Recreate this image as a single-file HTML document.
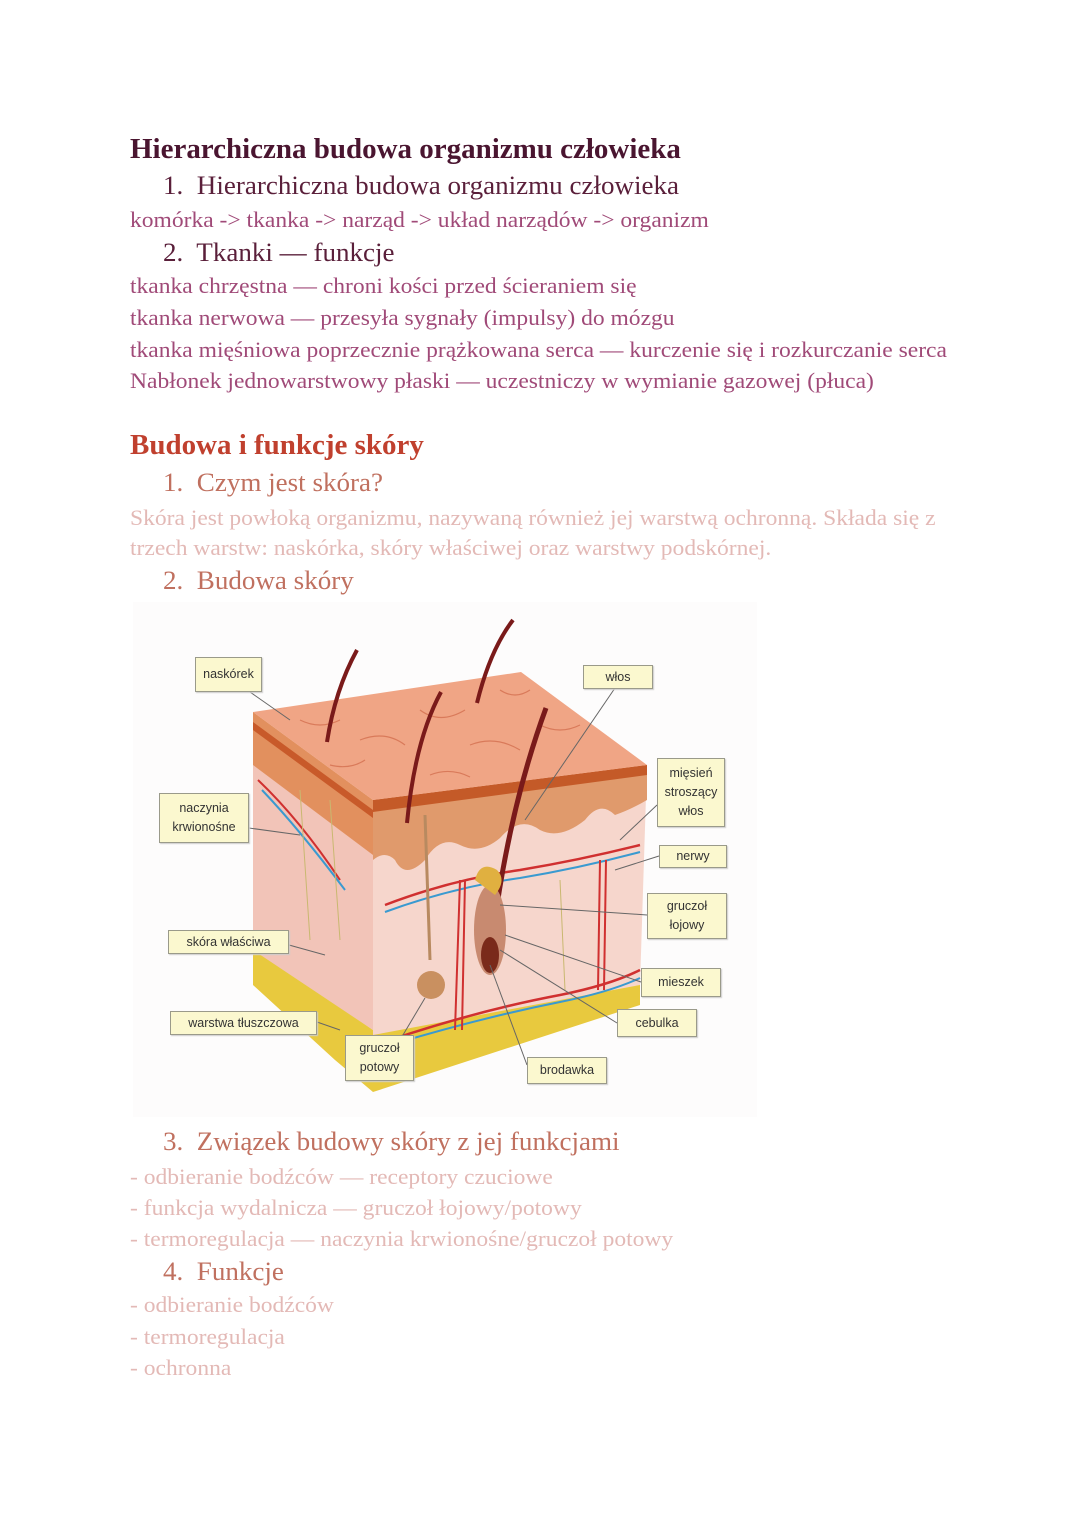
<!DOCTYPE html>
<html><head><meta charset="utf-8">
<style>
html,body{margin:0;padding:0;background:#fff;}
body{width:1080px;height:1525px;position:relative;overflow:hidden;font-family:"Liberation Serif",serif;}
.t{position:absolute;white-space:nowrap;line-height:32px;transform-origin:0 50%;}
.h1{font-size:28px;font-weight:bold;color:#4a1530;left:130px;transform:scaleX(1.035);}
.li1{font-size:26px;color:#5a1f3a;left:163px;transform:scaleX(1.04);}
.b1{font-size:22px;color:#a04a78;left:130px;transform:scaleX(1.07);}
.h2{font-size:28px;font-weight:bold;color:#c0402e;left:130px;transform:scaleX(1.035);}
.li2{font-size:26px;color:#c0705f;left:163px;transform:scaleX(1.04);}
.b2{font-size:22px;color:#e3b9b6;left:130px;transform:scaleX(1.07);}
.lab{position:absolute;background:#fbf8cf;border:1.5px solid #9a9a8a;font-family:"Liberation Sans",sans-serif;font-size:12.5px;color:#333;text-align:center;display:flex;align-items:center;justify-content:center;line-height:19px;box-sizing:border-box;box-shadow:1px 1px 1px #ccc;}
</style></head><body>
<div class="t h1" style="top:134px">Hierarchiczna budowa organizmu człowieka</div>
<div class="t li1" style="top:170px">1.&nbsp; Hierarchiczna budowa organizmu człowieka</div>
<div class="t b1" style="top:204px">komórka -&gt; tkanka -&gt; narząd -&gt; układ narządów -&gt; organizm</div>
<div class="t li1" style="top:237px">2.&nbsp; Tkanki — funkcje</div>
<div class="t b1" style="top:270px">tkanka chrzęstna — chroni kości przed ścieraniem się</div>
<div class="t b1" style="top:302px">tkanka nerwowa — przesyła sygnały (impulsy) do mózgu</div>
<div class="t b1" style="top:334px">tkanka mięśniowa poprzecznie prążkowana serca — kurczenie się i rozkurczanie serca</div>
<div class="t b1" style="top:365px">Nabłonek jednowarstwowy płaski — uczestniczy w wymianie gazowej (płuca)</div>

<div class="t h2" style="top:430px">Budowa i funkcje skóry</div>
<div class="t li2" style="top:467px">1.&nbsp; Czym jest skóra?</div>
<div class="t b2" style="top:502px">Skóra jest powłoką organizmu, nazywaną również jej warstwą ochronną. Składa się z</div>
<div class="t b2" style="top:532px">trzech warstw: naskórka, skóry właściwej oraz warstwy podskórnej.</div>
<div class="t li2" style="top:565px">2.&nbsp; Budowa skóry</div>

<svg style="position:absolute;left:0;top:0" width="1080" height="1525">
<rect x="133" y="602" width="624" height="515" fill="#fdfcfc"/>
<polygon points="253,945 373,1030 640,980 640,1005 373,1092 335,1060 253,985" fill="#e8c93e"/>
<polygon points="253,712 373,800 373,1030 253,950" fill="#f2c4b8"/>
<polygon points="373,800 647,765 640,985 373,1035" fill="#f6d6cc"/>
<polygon points="253,712 373,800 373,855 253,765" fill="#e2905e"/>
<polygon points="253,722 373,810 373,818 253,730" fill="#c85a2a"/>
<path d="M373,800 L647,765 L647,800 Q630,810 615,815 Q600,800 585,820 Q560,840 540,830 Q520,815 500,838 Q480,855 460,845 Q440,835 425,860 Q405,880 395,860 Q385,850 373,860 Z" fill="#e09a6c"/>
<polygon points="373,800 647,765 647,775 373,812" fill="#c45a28"/>
<polygon points="253,712 521,672 647,765 373,800" fill="#f0a585"/>
<path d="M300,720 q20,10 40,0 M360,740 q25,-10 45,5 M420,710 q20,15 45,0 M470,745 q25,-10 50,5 M540,725 q20,10 40,0 M430,775 q20,-8 40,2 M330,765 q20,5 35,-5 M500,690 q15,10 30,0" stroke="#d97a5a" stroke-width="1.2" fill="none"/>
<path d="M385,905 Q450,880 520,870 Q580,860 640,845" stroke="#d03030" stroke-width="2.5" fill="none"/>
<path d="M385,912 Q450,888 520,878 Q580,868 640,852" stroke="#3a9ad0" stroke-width="2" fill="none"/>
<path d="M390,1040 Q480,1010 560,995 Q610,985 640,970" stroke="#d03030" stroke-width="2.5" fill="none"/>
<path d="M390,1045 Q480,1018 560,1002 Q610,992 640,978" stroke="#3a9ad0" stroke-width="2" fill="none"/>
<path d="M258,780 Q300,820 340,880" stroke="#d03030" stroke-width="2" fill="none"/>
<path d="M262,790 Q300,830 345,890" stroke="#3a9ad0" stroke-width="2" fill="none"/>
<path d="M460,880 L455,1030 M465,880 L462,1030 M600,860 L598,990 M606,860 L604,990" stroke="#d03030" stroke-width="2" fill="none"/>
<path d="M300,790 L310,940 M330,800 L340,940 M560,880 L565,990" stroke="#c9b870" stroke-width="1" fill="none"/>
<path d="M327,742 Q335,690 357,650" stroke="#7a1a1a" stroke-width="4" fill="none"/>
<path d="M407,823 Q415,740 441,692" stroke="#7a1a1a" stroke-width="4" fill="none"/>
<path d="M477,703 Q490,650 513,620" stroke="#7a1a1a" stroke-width="4" fill="none"/>
<path d="M490,960 Q505,820 546,708" stroke="#7a1a1a" stroke-width="5" fill="none"/>
<ellipse cx="490" cy="930" rx="16" ry="45" fill="#c88a70"/>
<ellipse cx="490" cy="955" rx="9" ry="18" fill="#7a2a1a"/>
<path d="M475,880 q5,-20 22,-10 q10,10 -2,25 z" fill="#e0b040"/>
<path d="M425,815 L430,960" stroke="#b88a60" stroke-width="3" fill="none"/>
<circle cx="431" cy="985" r="14" fill="#c99060"/>
<g stroke="#666" stroke-width="1" fill="none">
<line x1="250" y1="692" x2="290" y2="720"/>
<line x1="615" y1="688" x2="525" y2="820"/>
<line x1="657" y1="805" x2="620" y2="840"/>
<line x1="249" y1="828" x2="300" y2="835"/>
<line x1="659" y1="856" x2="615" y2="870"/>
<line x1="647" y1="915" x2="500" y2="905"/>
<line x1="289" y1="945" x2="325" y2="955"/>
<line x1="641" y1="982" x2="505" y2="935"/>
<line x1="317" y1="1022" x2="340" y2="1030"/>
<line x1="617" y1="1023" x2="500" y2="950"/>
<line x1="400" y1="1040" x2="425" y2="998"/>
<line x1="527" y1="1065" x2="490" y2="965"/>
</g>
</svg>

<div class="lab" style="left:195px;top:657px;width:67px;height:35px">naskórek</div>
<div class="lab" style="left:583px;top:665px;width:70px;height:24px">włos</div>
<div class="lab" style="left:657px;top:758px;width:68px;height:69px">mięsień<br>stroszący<br>włos</div>
<div class="lab" style="left:159px;top:793px;width:90px;height:50px">naczynia<br>krwionośne</div>
<div class="lab" style="left:659px;top:845px;width:68px;height:23px">nerwy</div>
<div class="lab" style="left:647px;top:893px;width:80px;height:46px">gruczoł<br>łojowy</div>
<div class="lab" style="left:168px;top:930px;width:121px;height:24px">skóra właściwa</div>
<div class="lab" style="left:641px;top:968px;width:80px;height:29px">mieszek</div>
<div class="lab" style="left:170px;top:1011px;width:147px;height:24px">warstwa tłuszczowa</div>
<div class="lab" style="left:617px;top:1009px;width:80px;height:28px">cebulka</div>
<div class="lab" style="left:345px;top:1035px;width:69px;height:46px">gruczoł<br>potowy</div>
<div class="lab" style="left:527px;top:1057px;width:80px;height:27px">brodawka</div>

<div class="t li2" style="top:1126px">3.&nbsp; Związek budowy skóry z jej funkcjami</div>
<div class="t b2" style="top:1161px">- odbieranie bodźców — receptory czuciowe</div>
<div class="t b2" style="top:1192px">- funkcja wydalnicza — gruczoł łojowy/potowy</div>
<div class="t b2" style="top:1223px">- termoregulacja — naczynia krwionośne/gruczoł potowy</div>
<div class="t li2" style="top:1256px">4.&nbsp; Funkcje</div>
<div class="t b2" style="top:1289px">- odbieranie bodźców</div>
<div class="t b2" style="top:1321px">- termoregulacja</div>
<div class="t b2" style="top:1352px">- ochronna</div>
</body></html>
